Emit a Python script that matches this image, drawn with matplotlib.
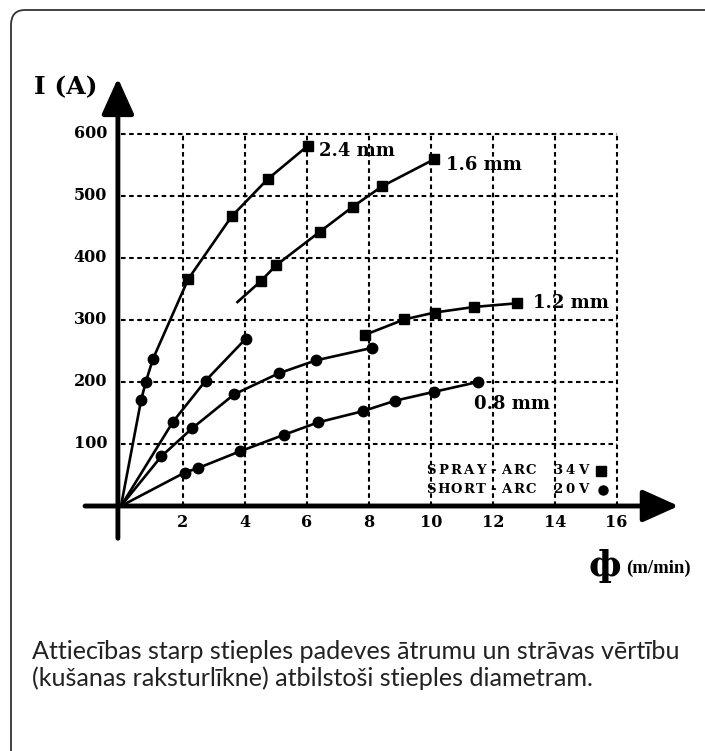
import matplotlib
matplotlib.use("Agg")
import matplotlib.pyplot as plt
from matplotlib.patches import FancyBboxPatch

# wire feed speed (m/min) vs current (A)
# short-arc (20V, circles) and spray-arc (34V, squares) for each wire diameter
short_24_x = [0.65, 0.80, 1.03]
short_24_y = [171, 200, 237]
spray_24_x = [2.17, 3.57, 4.73, 6.03]
spray_24_y = [366, 467, 527, 581]

short_16_x = [1.68, 2.73, 4.03]
short_16_y = [136, 202, 270]
spray_16_start = (3.76, 329)
spray_16_x = [4.52, 5.0, 6.41, 7.49, 8.44, 10.1]
spray_16_y = [363, 388, 442, 483, 516, 559]

short_12_x = [1.30, 2.29, 3.65, 5.09, 6.30, 8.1]
short_12_y = [80, 125, 180, 214, 235, 255]
spray_12_x = [7.87, 9.15, 10.12, 11.39, 12.79]
spray_12_y = [276, 301, 312, 321, 327]

short_08_x = [2.06, 2.48, 3.83, 5.27, 6.37, 7.81, 8.86, 10.09, 11.52]
short_08_y = [54, 61, 88, 115, 135, 153, 170, 184, 200]

x_ticks = [2, 4, 6, 8, 10, 12, 14, 16]
y_ticks = [100, 200, 300, 400, 500, 600]

labels = {"2.4 mm": (6.4, 572), "1.6 mm": (10.5, 550), "1.2 mm": (13.3, 327), "0.8 mm": (11.4, 164)}

caption = ("Attiecības starp stieples padeves ātrumu un strāvas vērtību\n"
           "(kušanas raksturlīkne) atbilstoši stieples diametram.")

W, H = 705, 751
fig = plt.figure(figsize=(W / 100, H / 100), dpi=100)
ax = fig.add_axes([0, 0, 1, 1])
# pixel mapping: origin at (121, 506), 30.98 px per m/min, 0.62 px per A
sx, sy = 30.98, 0.62
ax.set_xlim(-121 / sx, (W - 121) / sx)
ax.set_ylim((506 - H) / sy, 506 / sy)
ax.axis("off")

serif = "DejaVu Serif"
lw = 1.9

# frame
fig.patches.append(FancyBboxPatch((11 / W, -0.2), 1.2, 1 - 10 / H + 0.2,
                                  boxstyle="round,pad=0,rounding_size=0.02",
                                  transform=fig.transFigure, fill=False,
                                  ec="#333333", lw=1.3))

# grid
dash = (0, (2.2, 1.7))
for yv in y_ticks:
    ax.plot([0, 16], [yv, yv], color="black", lw=1.5, ls=dash)
for xv in x_ticks:
    ax.plot([xv, xv], [0, 600], color="black", lw=1.5, ls=dash)

# axes with arrows
ax.annotate("", xy=(18.0, 0), xytext=(-1.16, 0),
            arrowprops=dict(arrowstyle="-|>,head_length=1.0,head_width=0.45", lw=3.5,
                            color="black", shrinkA=0, shrinkB=0, mutation_scale=22))
ax.annotate("", xy=(-0.1, 690), xytext=(-0.1, -52),
            arrowprops=dict(arrowstyle="-|>,head_length=1.0,head_width=0.45", lw=3.5,
                            color="black", shrinkA=0, shrinkB=0, mutation_scale=22))

# curves
ax.plot([0] + short_24_x + spray_24_x, [0] + short_24_y + spray_24_y, color="black", lw=lw)
ax.plot([0] + short_16_x, [0] + short_16_y, color="black", lw=lw)
ax.plot([spray_16_start[0]] + spray_16_x, [spray_16_start[1]] + spray_16_y, color="black", lw=lw)
ax.plot([0] + short_12_x, [0] + short_12_y, color="black", lw=lw)
ax.plot(spray_12_x, spray_12_y, color="black", lw=lw)
ax.plot([0] + short_08_x, [0] + short_08_y, color="black", lw=lw)

for xs, ys in [(short_24_x, short_24_y), (short_16_x, short_16_y),
               (short_12_x, short_12_y), (short_08_x, short_08_y)]:
    ax.plot(xs, ys, "o", color="black", ms=7.5, ls="none")
for xs, ys in [(spray_24_x, spray_24_y), (spray_16_x, spray_16_y), (spray_12_x, spray_12_y)]:
    ax.plot(xs, ys, "s", color="black", ms=7, ls="none")

# tick labels
for xv in x_ticks:
    ax.text(xv, -27, str(xv), ha="center", va="center", family=serif,
            weight="bold", fontsize=11.5)
for yv in y_ticks:
    ax.text(-0.45, yv, str(yv), ha="right", va="center", family=serif,
            weight="bold", fontsize=11.5)

ax.text(-2.8, 675, "I (A)", ha="left", va="center", family=serif,
        weight="bold", fontsize=18)

for txt, (xv, yv) in labels.items():
    ax.text(xv, yv, txt, ha="left", va="center", family=serif,
            weight="bold", fontsize=13)

# legend with spaced letters
def spaced(x0, yv, s, pitch=0.405):
    for i, ch in enumerate(s):
        ax.text(x0 + i * pitch, yv, ch, ha="center", va="center", family=serif,
                weight="bold", fontsize=9.5)

spaced(10.0, 57, "SPRAY-ARC")
spaced(14.1, 57, "34V")
ax.plot([15.5], [57], "s", color="black", ms=6.5)
spaced(10.0, 26, "SHORT-ARC")
spaced(14.1, 26, "20V")
ax.plot([15.55], [26], "o", color="black", ms=6.5)

# x axis label
ax.text(15.1, -97, "ф", ha="left", va="center", family="DejaVu Serif",
        weight="bold", fontsize=26)
ax.text(16.3, -101, "(m/min)", ha="left", va="center", family="Liberation Serif",
        weight="bold", fontsize=13.5)

fig.text(32 / W, 1 - 665 / H, caption, ha="left", va="center", family="Lato",
         fontsize=18.1, linespacing=1.15, color="#222222")

fig.savefig("out.png", dpi=100)
